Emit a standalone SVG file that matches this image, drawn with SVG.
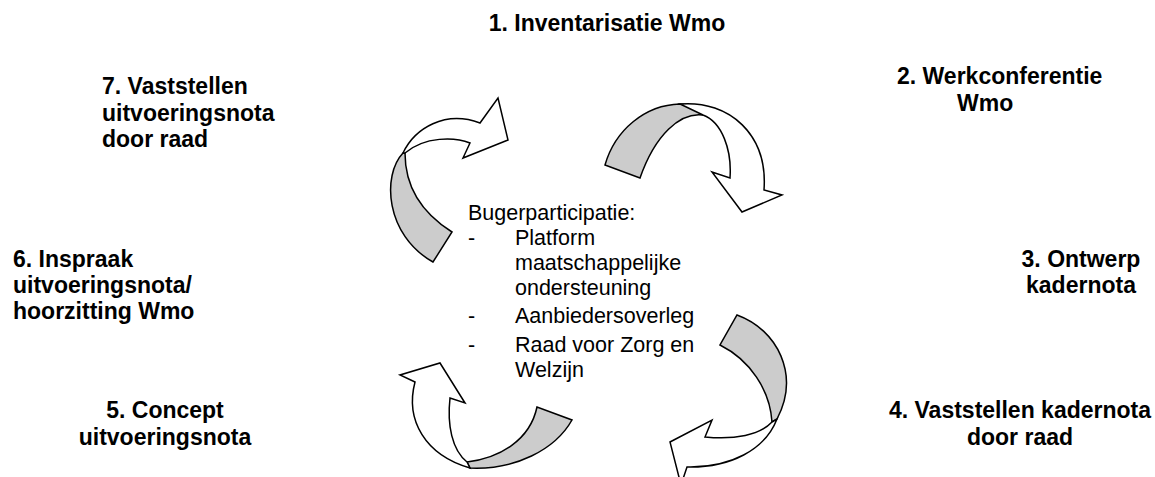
<svg xmlns="http://www.w3.org/2000/svg" width="1155" height="477" viewBox="0 0 1155 477">
<style>
.lbl{font-family:"Liberation Sans",Arial,sans-serif;font-weight:bold;font-size:23px;fill:#000}
.mid{text-anchor:middle}
.txt{font-family:"Liberation Sans",Arial,sans-serif;font-size:21.5px;fill:#000}
.w{fill:#fff;stroke:#000;stroke-width:1.5;stroke-linejoin:miter}
.g{fill:#cccccc;stroke:#000;stroke-width:1.5;stroke-linejoin:miter}
</style>
<defs>
<clipPath id="clip6"><rect x="0" y="0" width="400" height="326"/></clipPath>
</defs>
<rect width="1155" height="477" fill="#fff"/>
<g id="connectors">
<g id="arrow-7-1">
<path class="g" d="M403,153 C382,175 385,235 433,262 L452,232 C425,215 405,190 405,153 Z"/>
<path class="w" d="M403,153 C415,128 445,110 480,123 L498,98 L508,140 L463,158 L470,143 C455,137 425,136 405,153 Z"/>
</g>
<g id="arrow-1-3">
<path class="g" d="M605,165 C615,130 645,105 680,104 C690,104 698,108 703,115 C680,112 655,135 640,178 Z"/>
<path class="w" d="M680,104 C730,100 768,135 764,190 L782,195 L742,212 L712,172 L730,178 C732,150 722,122 703,115 Z"/>
</g>
<g id="arrow-3-5">
<path class="g" d="M737,315 C778,330 800,375 777,419 L772,422 C770,390 750,360 720,345 Z"/>
<path class="w" d="M777,419 C765,450 730,468 687,467 L681,485 L670,442 L712,420 L705,437 C735,440 760,435 772,422 Z"/>
</g>
<g id="arrow-5-7">
<path class="g" d="M572,420 C555,450 515,470 470,468 L467,462 C500,458 530,440 537,407 Z"/>
<path class="w" d="M470,468 C425,455 405,420 415,382 L400,375 L440,363 L465,403 L450,398 C447,425 452,450 467,462 Z"/>
</g>
</g>
<g id="node1"><text class="lbl mid" x="607" y="30.5">1. Inventarisatie Wmo</text></g>
<g id="node2"><text class="lbl" x="897" y="83.5">2. Werkconferentie</text><text class="lbl" x="957" y="110.5">Wmo</text></g>
<g id="node3"><text class="lbl mid" x="1081" y="266.5">3. Ontwerp</text><text class="lbl mid" x="1081" y="293">kadernota</text></g>
<g id="node4"><text class="lbl mid" x="1020" y="418">4. Vaststellen kadernota</text><text class="lbl mid" x="1020" y="445">door raad</text></g>
<g id="node5"><text class="lbl mid" x="165" y="418">5. Concept</text><text class="lbl mid" x="165" y="445">uitvoeringsnota</text></g>
<g id="node6" clip-path="url(#clip6)"><text class="lbl" x="13" y="266.7">6. Inspraak</text><text class="lbl" x="13" y="292.7">uitvoeringsnota/</text><text class="lbl" x="13" y="318.7">hoorzitting Wmo</text></g>
<g id="node7"><text class="lbl" x="102" y="94">7. Vaststellen</text><text class="lbl" x="102" y="120.5">uitvoeringsnota</text><text class="lbl" x="102" y="146.5">door raad</text></g>
<g id="center">
<text class="txt" x="468" y="220">Bugerparticipatie:</text>
<text class="txt" x="468" y="245">-</text><text class="txt" x="515" y="245">Platform</text>
<text class="txt" x="515" y="270">maatschappelijke</text>
<text class="txt" x="515" y="295">ondersteuning</text>
<text class="txt" x="468" y="323">-</text><text class="txt" x="515" y="323">Aanbiedersoverleg</text>
<text class="txt" x="468" y="351.5">-</text><text class="txt" x="515" y="351.5">Raad voor Zorg en</text>
<text class="txt" x="515" y="376.5">Welzijn</text>
</g>
</svg>
